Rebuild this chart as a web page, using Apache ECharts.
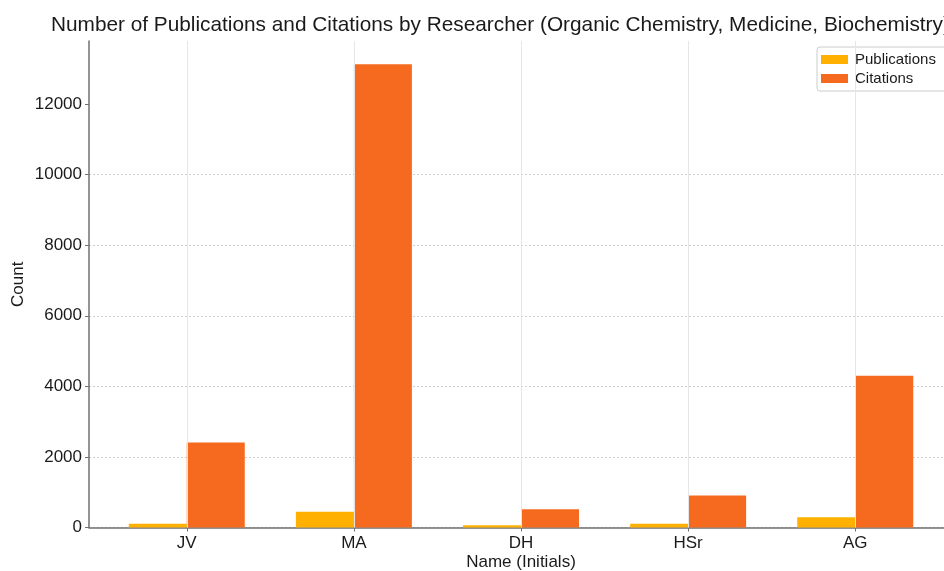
<!DOCTYPE html>
<html>
<head>
<meta charset="utf-8">
<script src="https://cdn.jsdelivr.net/npm/echarts@6/dist/echarts.min.js"></script>
<style>
html,body{margin:0;padding:0;background:#fff;}
#chart{width:944px;height:571px;}
</style>
</head>
<body>
<div id="chart"></div>
<script>
const names = ['JV', 'MA', 'DH', 'HSr', 'AG'];
const publications = [108, 448, 62, 108, 289];
const citations = [2410, 13130, 520, 910, 4300];
const yTicks = [0, 2000, 4000, 6000, 8000, 10000, 12000];
const titleText = 'Number of Publications and Citations by Researcher (Organic Chemistry, Medicine, Biochemistry)';

const FONT = '"Liberation Sans", Arial, sans-serif';
const chart = echarts.init(document.getElementById('chart'), null, {renderer: 'canvas'});

const idx = names.map((_, i) => i);
const yMax = Math.max(...citations, ...publications) * 1.05;

chart.setOption({
  animation: false,
  title: {
    text: titleText,
    left: 46,
    top: 10,
    textStyle: {fontFamily: FONT, fontSize: 20.8, fontWeight: 'normal', color: '#1a1a1a'}
  },
  legend: {
    data: ['Publications', 'Citations'],
    orient: 'vertical',
    left: 817,
    top: 47,
    itemWidth: 27,
    itemHeight: 9,
    itemGap: 4,
    padding: [5, 12, 5, 4],
    borderColor: '#cccccc',
    borderWidth: 1,
    borderRadius: 3,
    icon: 'rect',
    textStyle: {fontFamily: FONT, fontSize: 15, color: '#1a1a1a', padding: [0, 0, 0, 2]}
  },
  grid: {left: 89, top: 41, width: 864, height: 486.5, containLabel: false, outerBoundsMode: 'none'},
  xAxis: {
    type: 'value',
    min: -0.585,
    max: 4.585,
    name: 'Name (Initials)',
    nameLocation: 'middle',
    nameGap: 26,
    nameMoveOverlap: false,
    nameTextStyle: {fontFamily: FONT, fontSize: 17, color: '#1a1a1a'},
    axisLine: {show: true, onZero: false, lineStyle: {color: '#707070', width: 1.5}},
    axisTick: {show: true, customValues: idx, length: 4, lineStyle: {color: '#707070'}},
    axisLabel: {
      customValues: idx,
      formatter: v => names[Math.round(v)],
      margin: 7,
      fontFamily: FONT, fontSize: 17, color: '#1a1a1a'
    },
    splitLine: {show: false}
  },
  yAxis: {
    type: 'value',
    min: 0,
    max: yMax,
    interval: 2000,
    name: 'Count',
    nameLocation: 'middle',
    nameGap: 62,
    nameMoveOverlap: false,
    nameTextStyle: {fontFamily: FONT, fontSize: 17, color: '#1a1a1a'},
    axisLine: {show: true, onZero: false, lineStyle: {color: '#707070', width: 1.5}},
    axisTick: {show: true, customValues: yTicks, length: 4, lineStyle: {color: '#707070'}},
    axisLabel: {
      customValues: yTicks,
      formatter: v => String(v),
      margin: 7,
      fontFamily: FONT, fontSize: 17, color: '#1a1a1a'
    },
    splitLine: {show: true, showMaxLine: false, lineStyle: {color: '#cfcfcf', type: [2, 2], width: 1}}
  },
  series: [
    {
      type: 'line',
      data: [],
      z: 0,
      silent: true,
      markLine: {
        silent: true,
        symbol: ['none', 'none'],
        label: {show: false},
        lineStyle: {color: '#e6e6e6', type: 'solid', width: 1},
        data: idx.map(i => ({xAxis: i}))
      }
    },
    {
      name: 'Publications',
      type: 'bar',
      z: 2,
      barWidth: 58,
      barGap: '0%',
      itemStyle: {color: '#FFB000'},
      data: idx.map(i => [i, publications[i]])
    },
    {
      name: 'Citations',
      type: 'bar',
      z: 2,
      barWidth: 58,
      barGap: '0%',
      itemStyle: {color: '#F56A1E'},
      data: idx.map(i => [i, citations[i]])
    }
  ]
});
</script>
</body>
</html>
